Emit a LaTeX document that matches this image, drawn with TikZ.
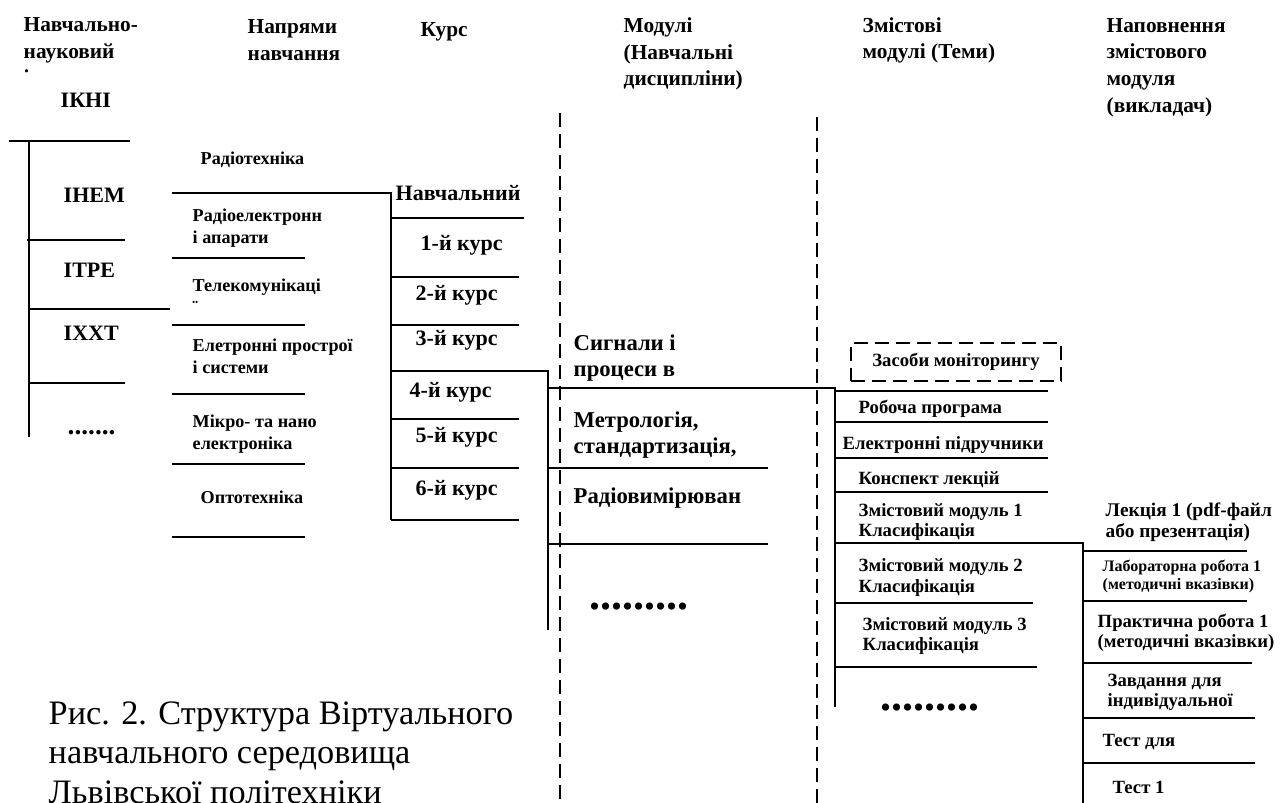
\documentclass[tikz,border=0pt]{standalone}
\usepackage{fontspec}
\setmainfont{Liberation Serif}
\begin{document}
\begin{tikzpicture}[x=0.75pt, y=-0.75pt, line width=1.1pt,
                txt/.style={anchor=west, inner sep=0pt, align=left},
                hd/.style={txt, font=\bfseries\fontsize{16}{20}\selectfont},
                inst/.style={txt, font=\bfseries\fontsize{16.5}{20}\selectfont},
                drn/.style={txt, font=\bfseries\fontsize{13.6}{16.5}\selectfont},
                crs/.style={txt, font=\bfseries\fontsize{16.5}{20}\selectfont},
                mdl/.style={txt, font=\bfseries\fontsize{17}{19.5}\selectfont},
                cnt/.style={txt, font=\bfseries\fontsize{14}{15.4}\selectfont},
                sml/.style={txt, font=\bfseries\fontsize{12}{13.5}\selectfont},
                dots/.style={txt, font=\bfseries\fontsize{33}{33}\selectfont},
                vsep/.style={dash pattern=on 10.5pt off 5.25pt}]
                \useasboundingbox (0,0) rectangle (1282,803);

                \node[hd] (hinst) at (23,40) {Навчально-\\науковий};
                \begin{scope}
                \clip (0,60) rectangle (200,72.5);
                \node[hd] (hinst3) at (23,79) {інститут};
                \end{scope}
                \node[hd] (hdir) at (247,40) {Напрями\\навчання};
                \node[hd] (hcrs) at (420,32) {Курс};
                \node[hd] (hmdl) at (623,54) {Модулі\\(Навчальні\\дисципліни)};
                \node[hd] (hcnt) at (862,40.5) {Змістові\\модулі (Теми)};
                \node[hd] (hfill) at (1106,67.5) {Наповнення\\змістового\\модуля\\(викладач)};

                \node[inst] (ikni) at (60,100) {ІКНІ};
                \node[inst] (inem) at (63,195) {ІНЕМ};
                \node[inst] (itre) at (63,270) {ІТРЕ};
                \node[inst] (ixxt) at (63,333) {ІХХТ};
                \node[txt, font=\bfseries\fontsize{20.5}{20.5}\selectfont] (idots) at (67,433) {.......};
                \draw (9,141) -- (130,141);
                \draw (29,141) -- (29,437);
                \draw (27,240) -- (125,240);
                \draw (29,309) -- (170,309);
                \draw (29,383) -- (125,383);

                \node[drn] (radio) at (200,160) {Радіотехніка};
                \node[drn] (rea) at (192,228) {Радіоелектронн\\і апарати};
                \begin{scope}
                \clip (150,270) rectangle (330,302.5);
                \node[drn] (tele) at (192,296) {Телекомунікаці\\ї};
                \end{scope}
                \node[drn] (eps) at (192,356) {Елетронні прострої\\і системи};
                \node[drn] (mne) at (192,434) {Мікро- та нано\\електроніка};
                \node[drn] (opto) at (200,497) {Оптотехніка};
                \draw (172,193) -- (391,193) -- (391,520);
                \draw (172,258) -- (305,258);
                \draw (172,325) -- (305,325);
                \draw (172,394) -- (305,394);
                \draw (172,464) -- (305,464);
                \draw (172,537) -- (305,537);

                \node[crs] (plan) at (395,193) {Навчальний};
                \node[crs] (c1) at (420,245) {1-й курс};
                \node[crs] (c2) at (415,295) {2-й курс};
                \node[crs] (c3) at (415,340) {3-й курс};
                \node[crs] (c4) at (409,392) {4-й курс};
                \node[crs] (c5) at (415,437) {5-й курс};
                \node[crs] (c6) at (415,490) {6-й курс};
                \draw (391,218) -- (524,218);
                \draw (391,277) -- (519,277);
                \draw (391,325) -- (519,325);
                \draw (391,371) -- (548,371) -- (548,630);
                \draw (391,419) -- (519,419);
                \draw (391,468) -- (519,468);
                \draw (391,520) -- (519,520);

                \draw[vsep] (560,113) -- (560,803);
                \draw[vsep] (817,117) -- (817,803);

                \node[mdl] (sig) at (573,358.5) {Сигнали і\\процеси в};
                \node[mdl] (metr) at (573,435.5) {Метрологія,\\стандартизація,};
                \node[mdl] (rvm) at (573,498) {Радіовимірюван};
                \node[dots] (mdots) at (589,607) {.........};
                \draw (548,388) -- (835,388) -- (835,707);
                \draw (548,468) -- (768,468);
                \draw (548,544) -- (768,544);

                \node[cnt, anchor=center, draw, vsep, minimum width=157.5pt, minimum height=28.5pt] (mon) at (956,362) {Засоби моніторингу};
                \node[cnt] (rp) at (858,409) {Робоча програма};
                \node[cnt] (ep) at (842,445) {Електронні підручники};
                \node[cnt] (kl) at (858,480) {Конспект лекцій};
                \node[cnt] (zm1) at (858,522) {Змістовий модуль 1\\Класифікація};
                \node[cnt] (zm2) at (858,577.5) {Змістовий модуль 2\\Класифікація};
                \node[cnt] (zm3) at (862,636) {Змістовий модуль 3\\Класифікація};
                \node[dots] (zdots) at (880,708) {.........};
                \draw (835,391) -- (1048,391);
                \draw (835,422) -- (1048,422);
                \draw (835,458) -- (1048,458);
                \draw (835,492) -- (1048,492);
                \draw (835,543) -- (1083,543) -- (1083,803);
                \draw (835,603) -- (1033,603);
                \draw (835,667) -- (1037,667);

                \node[txt, font=\bfseries\fontsize{14.5}{15.4}\selectfont] (lek) at (1105,522) {Лекція 1 (pdf-файл\\або презентація)};
                \node[sml] (lab) at (1102,576) {Лабораторна робота 1\\(методичні вказівки)};
                \node[cnt] (prk) at (1097,633) {Практична робота 1\\(методичні вказівки)};
                \node[cnt] (zav) at (1107,692.5) {Завдання для\\індивідуальної};
                \node[cnt] (tst) at (1102,742) {Тест для};
                \node[cnt] (tst1) at (1112,787) {Тест 1};
                \draw (1083,551) -- (1247,551);
                \draw (1083,601) -- (1247,601);
                \draw (1083,663) -- (1252,663);
                \draw (1083,718) -- (1255,718);
                \draw (1083,763) -- (1255,763);

                \node[txt, font=\fontsize{25.7}{29.6}\selectfont] (cap) at (48,752.5) {Рис. 2. Структура Віртуального\\навчального середовища\\Львівської політехніки};
            \end{tikzpicture}
\end{document}
